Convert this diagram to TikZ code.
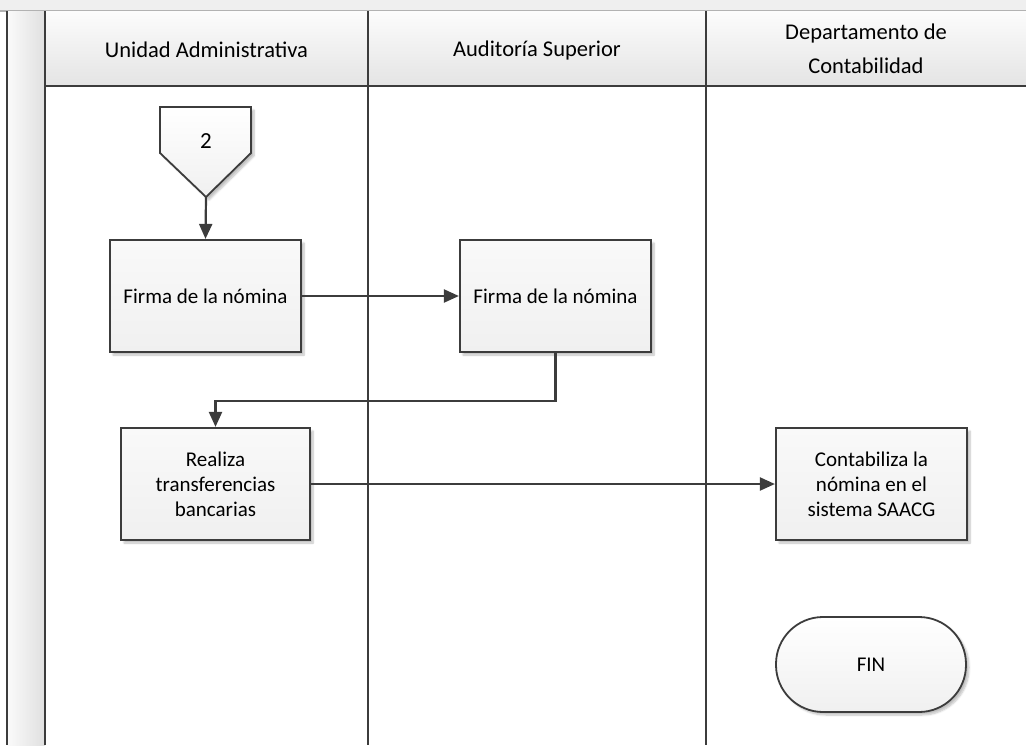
\documentclass[tikz,border=0pt]{standalone}
\usepackage{fontspec}
\setmainfont{Carlito}
\usetikzlibrary{arrows.meta,shadows.blur,positioning}
\definecolor{lanecol}{HTML}{3C3C3C}
\definecolor{boxfill}{HTML}{F0F0F0}
\definecolor{bandgray}{HTML}{EFEFEF}
\tikzset{
  laneline/.style={draw=lanecol,line width=2.2pt},
  procbox/.style={draw=lanecol,line width=2.2pt,top color=white!60!boxfill,bottom color=boxfill,
    minimum width=191pt,minimum height=112pt,inner sep=2pt,align=center,font=\fontsize{21}{25}\selectfont,
    blur shadow={shadow xshift=3pt,shadow yshift=-3pt,shadow opacity=25,shadow blur steps=6}},
  termbox/.style={draw=lanecol,line width=1.8pt,top color=white,bottom color=boxfill,rounded corners=47pt,
    minimum width=190pt,minimum height=95pt,font=\fontsize{21}{25}\selectfont,
    blur shadow={shadow xshift=3pt,shadow yshift=-3pt,shadow opacity=25,shadow blur steps=6}},
  headtext/.style={font=\fontsize{22.5}{34}\selectfont,align=center,text=black},
  flow/.style={draw=lanecol,line width=2.2pt,-{Triangle[length=15pt,width=13pt]}},
}
\begin{document}
\begin{tikzpicture}[x=1pt,y=-1pt]
\useasboundingbox (0,0) rectangle (1026,745);
% top band
\fill[bandgray] (0,0) rectangle (1026,11);
\draw[draw=black!30,line width=1.2pt] (0,11) -- (1026,11);
% left strip
\shade[left color=white!70!boxfill,right color=boxfill!90!black!80] (7,11) rectangle (45,745);
% header
\shade[top color=white!80!boxfill,bottom color=boxfill!95!black] (45,11) rectangle (1026,86);
\draw[laneline] (7,11) -- (7,745);
\draw[laneline] (45,11) -- (45,745);
\draw[laneline] (368,11) -- (368,745);
\draw[laneline] (706,11) -- (706,745);
\draw[laneline] (45,86) -- (1026,86);
% header texts
\node[headtext] (h1) at (206.5,50) {Unidad Administrativa};
\node[headtext] (h2) at (537,50) {Auditoría Superior};
\node[headtext] (h3) at (866,49) {Departamento de\\Contabilidad};
% off-page connector
\draw[draw=lanecol,line width=1.8pt,top color=white,bottom color=boxfill,
  blur shadow={shadow xshift=3pt,shadow yshift=-3pt,shadow opacity=25,shadow blur steps=6}]
  (160,107) -- (251,107) -- (251,153) -- (206,197) -- (160,153) -- cycle;
\node[font=\fontsize{23}{25}\selectfont] (c2) at (206,141) {2};
\coordinate (c2tip) at (206,197);
% boxes
\node[procbox] (b1) at (205.5,296) {Firma de la nómina};
\node[procbox] (b2) at (555.5,296) {Firma de la nómina};
\node[procbox,minimum width=189pt] (b3) at (215.5,484) {Realiza\\transferencias\\bancarias};
\node[procbox] (b4) at (871.5,484) {Contabiliza la\\nómina en el\\sistema SAACG};
\node[termbox] (fin) at (871,664.5) {FIN};
% connectors
\draw[flow] (c2tip) -- (b1.north);
\draw[flow] (b1.east) -- (b2.west);
\draw[flow] (b2.south) |- (215.5,401) -- (b3.north);
\draw[flow] (b3.east) -- (b4.west);
\end{tikzpicture}
\end{document}
